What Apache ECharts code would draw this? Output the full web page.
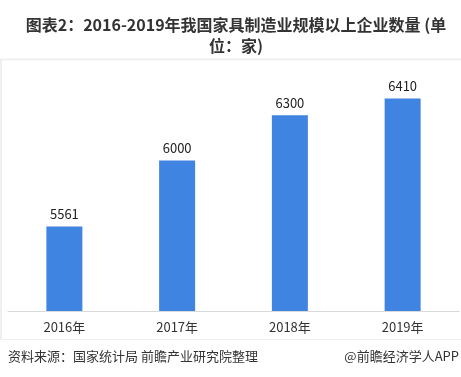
<!DOCTYPE html>
<html>
<head>
<meta charset="utf-8">
<script src="https://cdn.jsdelivr.net/npm/echarts@6/dist/echarts.min.js"></script>
<style>
  html, body { margin: 0; padding: 0; background: #fff; }
  #chart { width: 461px; height: 377px; }
</style>
</head>
<body>
<div id="chart"></div>
<script>
// Données du graphique
const categories = ["2016年", "2017年", "2018年", "2019年"];
const companyCounts = [5561, 6000, 6300, 6410];

const chart = echarts.init(document.getElementById("chart"));
const font = "'Noto Sans CJK SC', 'Noto Sans', sans-serif";

const options = {
  backgroundColor: "#fff",
  animation: false,
  title: {
    text: "图表2：2016-2019年我国家具制造业规模以上企业数量 (单\n位：家)",
    left: 231,
    top: 9,
    textAlign: "center",
    textStyle: {
      fontFamily: font,
      fontSize: 16,
      fontWeight: "bold",
      color: "#333",
      lineHeight: 21,
    },
  },
  graphic: [
    // cadre gris clair autour du graphique
    { type: "line", shape: { x1: 0, y1: 59.5, x2: 461, y2: 59.5 }, style: { stroke: "#ebebf0", lineWidth: 1.5 } },
    { type: "line", shape: { x1: 1, y1: 60, x2: 1, y2: 339 }, style: { stroke: "#f0f0f4", lineWidth: 2 } },
    { type: "line", shape: { x1: 0, y1: 339.5, x2: 461, y2: 339.5 }, style: { stroke: "#f0f0f4", lineWidth: 1 } },
    {
      type: "text",
      left: 8,
      top: 350,
      style: { text: "资料来源：国家统计局 前瞻产业研究院整理", fill: "#333", font: "13px " + font },
    },
    {
      type: "text",
      right: 2,
      top: 350,
      style: { text: "@前瞻经济学人APP", fill: "#333", font: "13px " + font },
    },
  ],
  grid: { left: 8, right: 2, top: 70, bottom: 66, containLabel: false },
  xAxis: {
    type: "category",
    data: categories,
    axisLine: { lineStyle: { color: "#d9d9d9" } },
    axisTick: { show: false },
    axisLabel: { color: "#333", fontSize: 13, fontFamily: font, margin: 10 },
  },
  yAxis: {
    type: "value",
    min: 5000,
    max: 6600,
    show: false,
    splitLine: { show: false },
  },
  series: [
    {
      name: "企业数量",
      type: "bar",
      data: companyCounts,
      barWidth: 36,
      itemStyle: { color: "#3f84e0" },
      label: {
        show: true,
        position: "top",
        distance: 6,
        color: "#222",
        fontSize: 13,
        fontFamily: font,
      },
    },
  ],
};

chart.setOption(options);
</script>
</body>
</html>
